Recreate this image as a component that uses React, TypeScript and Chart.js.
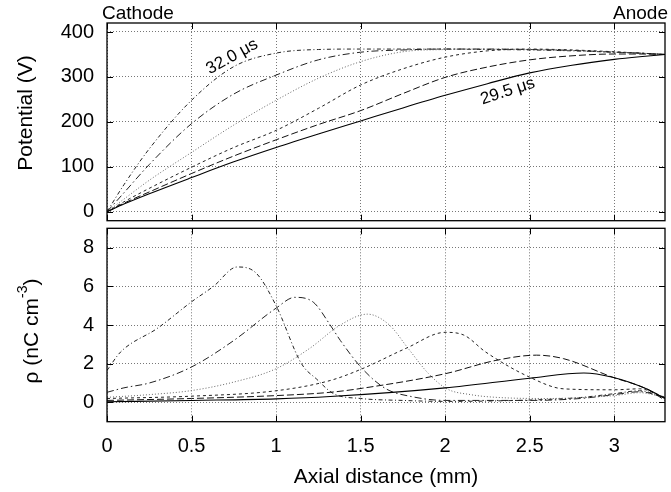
import React, { useEffect, useRef } from "react";
import { Chart, registerables } from "chart.js";
Chart.register(...registerables);

// ---------- data ----------
const xTicks = [0, 0.5, 1, 1.5, 2, 2.5, 3];
const potTicks = [0, 100, 200, 300, 400];
const rhoTicks = [0, 2, 4, 6, 8];

const potX = [0, 0.1, 0.25, 0.5, 0.75, 1, 1.25, 1.5, 1.75, 2, 2.25, 2.5, 2.75, 3, 3.15, 3.3];
const pot295 = [0, 17, 40, 76, 111, 143, 173, 202, 231, 259, 285, 309, 326, 339, 345, 350];
const pot300 = [0, 19, 44, 85, 124, 160, 194, 225, 263, 299, 322, 338, 347, 351, 351, 350];
const pot305 = [0, 22, 52, 99, 143, 181, 230, 282, 318, 344, 358, 362, 360, 356, 353, 350];
const pot310 = [0, 28, 70, 132, 193, 248, 297, 334, 356, 361, 362, 361, 359, 355, 353, 350];
const pot315 = [0, 42, 105, 196, 262, 304, 338, 355, 360, 362, 362, 361, 359, 355, 353, 350];
const pot320 = [0, 60, 140, 248, 323, 353, 361, 362, 362, 362, 361, 360, 358, 355, 353, 350];

const rhoX295 = [0, 0.5, 1.0, 1.32, 2.0, 2.5, 2.82, 2.99, 3.19, 3.3];
const rho295 = [0.03, 0.1, 0.18, 0.3, 0.75, 1.25, 1.52, 1.3, 0.7, 0.2];
const rhoX300 = [0, 0.5, 1.0, 1.32, 1.51, 2.0, 2.3, 2.54, 2.7, 2.99, 3.19, 3.3];
const rho300 = [0.1, 0.2, 0.35, 0.52, 0.73, 1.48, 2.17, 2.44, 2.26, 1.3, 0.7, 0.1];
const rhoX305 = [0, 0.5, 1.0, 1.32, 1.51, 1.77, 2.0, 2.11, 2.24, 2.5, 2.7, 3.0, 3.15, 3.3];
const rho305 = [0.2, 0.32, 0.6, 1.13, 1.74, 2.8, 3.62, 3.48, 2.6, 1.3, 0.7, 0.65, 0.7, 0.26];
const rhoX310 = [0, 0.25, 0.5, 0.75, 1.0, 1.2, 1.38, 1.54, 1.67, 1.78, 1.9, 2.01, 2.15, 2.3, 2.6, 3.0, 3.15, 3.3];
const rho310 = [0.26, 0.4, 0.61, 1.05, 1.74, 2.8, 4.0, 4.56, 4.0, 2.8, 1.5, 0.7, 0.4, 0.26, 0.2, 0.35, 0.5, 0.25];
const rhoX315 = [0, 0.1, 0.25, 0.5, 0.75, 1.0, 1.11, 1.22, 1.32, 1.38, 1.51, 1.65, 1.8, 2.0, 2.5, 2.8, 3.0, 3.15, 3.3];
const rho315 = [0.52, 0.75, 1.0, 1.83, 3.2, 4.87, 5.43, 5.18, 4.0, 3.2, 1.74, 0.7, 0.3, 0.1, 0.1, 0.2, 0.4, 0.55, 0.25];
const rhoX320 = [0, 0.08, 0.3, 0.5, 0.63, 0.77, 0.88, 1.0, 1.15, 1.24, 1.34, 1.5, 1.75, 2.0, 2.5, 2.8, 3.0, 3.15, 3.3];
const rho320 = [1.65, 2.6, 3.84, 5.2, 6.0, 7.0, 6.7, 5.0, 2.0, 1.2, 0.45, 0.2, 0.1, 0.05, 0.12, 0.25, 0.45, 0.6, 0.25];

const labelEarly = "29.5 μs";
const labelLate = "32.0 μs";

// ---------- styles ----------
const FONT = "'Liberation Sans', Arial, Helvetica, sans-serif";
const lineStyles = [
  { color: "#000", dash: [] as number[], width: 1.1 },
  { color: "#111", dash: [7, 3], width: 1 },
  { color: "#222", dash: [3, 3], width: 1 },
  { color: "#666", dash: [1, 2], width: 1 },
  { color: "#222", dash: [7, 3, 1.5, 3], width: 1 },
  { color: "#222", dash: [4, 2.5, 1, 2.5], width: 1 },
];

const toPts = (xs: number[], ys: number[]) => xs.map((x, i) => ({ x, y: ys[i] }));

function makeDatasets(series: { x: number[]; y: number[] }[]) {
  return series.map((s, i) => ({
    data: toPts(s.x, s.y),
    borderColor: lineStyles[i].color,
    borderDash: lineStyles[i].dash,
    borderWidth: lineStyles[i].width,
    pointRadius: 0,
    fill: false,
    cubicInterpolationMode: "monotone" as const,
  }));
}

function frameTicks(chart: any) {
  const { ctx, chartArea: a } = chart;
  const xs = chart.scales.x;
  const ys = chart.scales.y;
  ctx.save();
  ctx.strokeStyle = "#000";
  ctx.lineWidth = 1.3;
  ctx.setLineDash([]);
  ctx.strokeRect(a.left, a.top, a.right - a.left, a.bottom - a.top);
  ctx.lineWidth = 1;
  const L = 6;
  ctx.beginPath();
  xs.ticks.forEach((t: any) => {
    const px = Math.round(xs.getPixelForValue(t.value)) + 0.5;
    ctx.moveTo(px, a.bottom);
    ctx.lineTo(px, a.bottom - L);
    ctx.moveTo(px, a.top);
    ctx.lineTo(px, a.top + L);
  });
  ys.ticks.forEach((t: any) => {
    const py = Math.round(ys.getPixelForValue(t.value)) + 0.5;
    ctx.moveTo(a.left, py);
    ctx.lineTo(a.left + L, py);
    ctx.moveTo(a.right, py);
    ctx.lineTo(a.right - L, py);
  });
  ctx.stroke();
  ctx.restore();
}

function baseOptions(yMin: number, yMax: number, yTickVals: number[], padTop: number, padBottom: number, xAxisHeight: number, showXLabels: boolean) {
  return {
    responsive: false,
    animation: false as const,
    devicePixelRatio: 1,
    layout: { padding: { left: 0, right: 6, top: padTop, bottom: padBottom } },
    plugins: { legend: { display: false }, tooltip: { enabled: false } },
    scales: {
      x: {
        type: "linear" as const,
        min: 0,
        max: 3.3,
        afterBuildTicks: (s: any) => {
          s.ticks = xTicks.map((v) => ({ value: v }));
        },
        afterFit: (s: any) => {
          s.height = xAxisHeight;
          s.paddingLeft = 0;
          s.paddingRight = 0;
          s.paddingTop = 0;
          s.paddingBottom = 0;
        },
        grid: { color: "#777", lineWidth: 1, drawTicks: false },
        border: { display: false, dash: [1, 2] },
        ticks: {
          display: showXLabels,
          padding: 13,
          color: "#000",
          font: { family: FONT, size: 20 },
          maxRotation: 0,
          callback: (v: any) => String(v),
        },
      },
      y: {
        type: "linear" as const,
        min: yMin,
        max: yMax,
        afterBuildTicks: (s: any) => {
          s.ticks = yTickVals.map((v) => ({ value: v }));
        },
        afterFit: (s: any) => {
          s.width = 107;
          s.paddingTop = 0;
          s.paddingBottom = 0;
          s.paddingLeft = 0;
          s.paddingRight = 0;
        },
        grid: { color: "#777", lineWidth: 1, drawTicks: false },
        border: { display: false, dash: [1, 2] },
        ticks: {
          padding: 13,
          color: "#000",
          font: { family: FONT, size: 20 },
          callback: (v: any) => String(v),
        },
      },
    },
  };
}

export default function App() {
  const topRef = useRef<HTMLCanvasElement>(null);
  const botRef = useRef<HTMLCanvasElement>(null);

  useEffect(() => {
    const topDecor = {
      id: "topDecor",
      afterDraw: (chart: any) => {
        frameTicks(chart);
        const { ctx } = chart;
        const xs = chart.scales.x;
        const ys = chart.scales.y;
        ctx.save();
        ctx.fillStyle = "#000";
        ctx.font = `19px ${FONT}`;
        ctx.textBaseline = "alphabetic";
        ctx.textAlign = "left";
        ctx.fillText("Cathode", 102, 18.5);
        ctx.textAlign = "right";
        ctx.fillText("Anode", 668, 18.5);
        // axis title
        ctx.save();
        ctx.translate(26, 113);
        ctx.rotate(-Math.PI / 2);
        ctx.font = `21px ${FONT}`;
        ctx.textAlign = "center";
        ctx.textBaseline = "middle";
        ctx.fillText("Potential (V)", 0, 0);
        ctx.restore();
        // curve labels
        ctx.font = `17px ${FONT}`;
        ctx.textAlign = "center";
        ctx.textBaseline = "middle";
        ctx.save();
        ctx.translate(xs.getPixelForValue(0.74), ys.getPixelForValue(345));
        ctx.rotate((-29 * Math.PI) / 180);
        ctx.fillText(labelLate, 0, 0);
        ctx.restore();
        ctx.save();
        ctx.translate(xs.getPixelForValue(2.37), ys.getPixelForValue(268));
        ctx.rotate((-18 * Math.PI) / 180);
        ctx.fillText(labelEarly, 0, 0);
        ctx.restore();
        ctx.restore();
      },
    };

    const botDecor = {
      id: "botDecor",
      afterDraw: (chart: any) => {
        frameTicks(chart);
        const { ctx } = chart;
        ctx.save();
        ctx.fillStyle = "#000";
        ctx.font = `21px ${FONT}`;
        ctx.textAlign = "center";
        ctx.textBaseline = "alphabetic";
        ctx.fillText("Axial distance (mm)", 386, 257);
        // rho title with superscript
        ctx.translate(32, 105);
        ctx.rotate(-Math.PI / 2);
        const mainFont = `21px ${FONT}`;
        const supFont = `14px ${FONT}`;
        const t1 = "ρ (nC cm";
        const t2 = "-3";
        const t3 = ")";
        ctx.font = mainFont;
        const w1 = ctx.measureText(t1).width;
        const w3 = ctx.measureText(t3).width;
        ctx.font = supFont;
        const w2 = ctx.measureText(t2).width;
        let x0 = -(w1 + w2 + w3) / 2;
        ctx.textAlign = "left";
        ctx.textBaseline = "middle";
        ctx.font = mainFont;
        ctx.fillText(t1, x0, 0);
        x0 += w1;
        ctx.font = supFont;
        ctx.fillText(t2, x0, -9);
        x0 += w2;
        ctx.font = mainFont;
        ctx.fillText(t3, x0, 0);
        ctx.restore();
      },
    };

    const top = new Chart(topRef.current!, {
      type: "line",
      data: {
        datasets: makeDatasets([
          { x: potX, y: pot295 },
          { x: potX, y: pot300 },
          { x: potX, y: pot305 },
          { x: potX, y: pot310 },
          { x: potX, y: pot315 },
          { x: potX, y: pot320 },
        ]) as any,
      },
      options: baseOptions(-20, 420, potTicks, 23, 5.3, 0, false) as any,
      plugins: [topDecor],
    });

    const bot = new Chart(botRef.current!, {
      type: "line",
      data: {
        datasets: makeDatasets([
          { x: rhoX295, y: rho295 },
          { x: rhoX300, y: rho300 },
          { x: rhoX305, y: rho305 },
          { x: rhoX310, y: rho310 },
          { x: rhoX315, y: rho315 },
          { x: rhoX320, y: rho320 },
        ]) as any,
      },
      options: baseOptions(-1, 9, rhoTicks, 2.3, 0, 70.3, true) as any,
      plugins: [botDecor],
    });

    return () => {
      top.destroy();
      bot.destroy();
    };
  }, []);

  return (
    <div style={{ position: "absolute", left: 0, top: 0, width: 671, height: 492, background: "#fff" }}>
      <canvas ref={topRef} width={671} height={226} style={{ position: "absolute", left: 0, top: 0 }} />
      <canvas ref={botRef} width={671} height={266} style={{ position: "absolute", left: 0, top: 226 }} />
    </div>
  );
}
